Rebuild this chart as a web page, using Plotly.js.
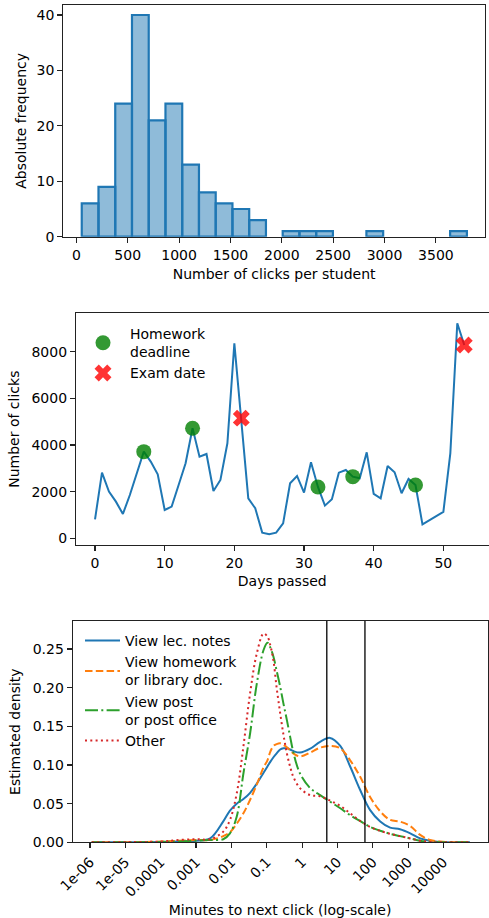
<!DOCTYPE html>
<html>
<head>
<meta charset="utf-8">
<script src="https://cdn.plot.ly/plotly-3.0.1.min.js"></script>
<style>html,body{margin:0;padding:0;background:#fff;}#chart{width:489px;height:918px;}</style>
</head>
<body>
<div id="chart"></div>
<script>
// ---------- Panel 1: histogram of clicks per student ----------
const histCounts = [6, 9, 24, 40, 21, 24, 13, 8, 6, 5, 3, 0, 1, 1, 1, 0, 0, 1, 0, 0, 0, 0, 1];
const histBinStart = 52.6;
const histBinWidth = 163;
const histTickVals = [0, 500, 1000, 1500, 2000, 2500, 3000, 3500];

// ---------- Panel 2: clicks per day ----------
const days = [0,1,2,3,4,5,6,7,8,9,10,11,12,13,14,15,16,17,18,19,20,21,22,23,24,25,26,
              27,28,29,30,31,32,33,34,35,36,37,38,39,40,41,42,43,44,45,46,47,48,49,50,51,52,53];
const clicks = [814, 2814, 2000, 1571, 1043, 1857, 2786, 3714, 3286, 2743, 1214, 1357, 2286, 3214,
                4714, 3500, 3614, 2029, 2500, 4071, 8357, 5150, 1714, 1286, 243, 171, 243, 643,
                2357, 2671, 1957, 3257, 2200, 1400, 1671, 2814, 2929, 2643, 2571, 3686, 1900, 1714,
                3100, 2829, 1929, 2543, 2286, 600, 786, 957, 1129, 3643, 9214, 8286];
const homeworkDays = [7, 14, 32, 37, 46];
const examDays = [21, 53];

// ---------- Panel 3: density of minutes to next click ----------
const logMinutes = [-5.95, -5, -4, -3.5, -3, -2.6, -2.23, -2.04, -1.85, -1.66, -1.47, -1.28, -1.09, -0.98,
                    -0.9, -0.81, -0.72, -0.62, -0.53, -0.43, -0.34, -0.25, -0.06, 0.23, 0.51, 0.79, 1.08,
                    1.36, 1.64, 1.92, 2.21, 2.49, 2.77, 3.06, 3.34, 3.62, 3.9, 4.3, 4.75];
const densLecNotes = [0, 0, 0.0005, 0.001, 0.002, 0.005, 0.027, 0.041, 0.05, 0.056, 0.064, 0.076, 0.09, 0.098,
                      0.104, 0.11, 0.115, 0.12, 0.1216, 0.1215, 0.12, 0.118, 0.116, 0.121, 0.13, 0.135, 0.1246,
                      0.098, 0.068, 0.042, 0.027, 0.019, 0.0168, 0.0116, 0.005, 0.002, 0.0005, 0, 0];
const densHomework = [0, 0, 0.001, 0.002, 0.003, 0.003, 0.008, 0.013, 0.024, 0.0375, 0.055, 0.075, 0.097, 0.106,
                      0.117, 0.1246, 0.127, 0.128, 0.126, 0.123, 0.119, 0.115, 0.111, 0.116, 0.1224, 0.1246, 0.1216,
                      0.106, 0.085, 0.059, 0.04, 0.029, 0.0267, 0.021, 0.0095, 0.003, 0.001, 0, 0];
const densPost = [0, 0, 0.0005, 0.001, 0.002, 0.003, 0.004, 0.0116, 0.033, 0.089, 0.141, 0.2056, 0.2487, 0.258,
                  0.252, 0.24, 0.222, 0.2013, 0.18, 0.158, 0.137, 0.117, 0.089, 0.07, 0.061, 0.0526, 0.044,
                  0.035, 0.0276, 0.02, 0.015, 0.011, 0.008, 0.005, 0.002, 0.0005, 0, 0, 0];
const densOther = [0, 0.0003, 0.001, 0.003, 0.004, 0.004, 0.0138, 0.029, 0.063, 0.124, 0.193, 0.2444, 0.27, 0.266,
                   0.255, 0.235, 0.2, 0.167, 0.14, 0.115, 0.098, 0.085, 0.07, 0.061, 0.0595, 0.054, 0.047,
                   0.0375, 0.0276, 0.02, 0.0147, 0.011, 0.008, 0.005, 0.002, 0.0005, 0, 0, 0];
const thresholdMinutes = [5, 60];
const logTickVals = [1e-6, 1e-5, 1e-4, 1e-3, 1e-2, 1e-1, 1, 10, 100, 1000, 10000];
const logTickText = ['1e-06', '1e-05', '0.0001', '0.001', '0.01', '0.1', '1', '10', '100', '1000', '10000'];

// ---------- build ----------
const W = 489, H = 918;
const px = v => v / W;
const py = v => 1 - v / H;
const FONT = 'DejaVu Sans';
const FS = 14;

const histBar = {
  type: 'bar', xaxis: 'x', yaxis: 'y',
  x: histCounts.map((c, i) => histBinStart + i * histBinWidth),
  y: histCounts.map(c => c === 0 ? null : c),
  width: histCounts.map(() => histBinWidth),
  offset: 0,
  marker: {color: 'rgba(31,119,180,0.5)', line: {color: '#1f77b4', width: 2.2}},
  showlegend: false, hoverinfo: 'skip'
};

const clickLine = {
  type: 'scatter', mode: 'lines', xaxis: 'x2', yaxis: 'y2',
  x: days, y: clicks, line: {color: '#1f77b4', width: 2},
  showlegend: false, hoverinfo: 'skip'
};
const hwMarkers = {
  type: 'scatter', mode: 'markers', xaxis: 'x2', yaxis: 'y2',
  x: homeworkDays, y: homeworkDays.map(d => clicks[days.indexOf(d)]),
  marker: {symbol: 'circle', size: 15, color: 'rgba(0,128,0,0.8)', line: {width: 0}},
  name: 'Homework<br>deadline', legend: 'legend'
};
const examMarkers = {
  type: 'scatter', mode: 'markers', xaxis: 'x2', yaxis: 'y2',
  x: examDays, y: examDays.map(d => clicks[days.indexOf(d)]),
  marker: {symbol: 'x', size: 15, color: 'rgba(255,0,0,0.8)', line: {width: 0}},
  name: 'Exam date', legend: 'legend'
};

const minutes = logMinutes.map(v => Math.pow(10, v));
function dens(y, name, color, dash) {
  return {
    type: 'scatter', mode: 'lines', xaxis: 'x3', yaxis: 'y3',
    x: minutes, y: y, name: name, legend: 'legend2',
    line: {color: color, width: 2, dash: dash, shape: 'spline', smoothing: 1},
    hoverinfo: 'skip'
  };
}
const densTraces = [
  dens(densLecNotes, 'View lec. notes', '#1f77b4', 'solid'),
  dens(densHomework, 'View homework<br>or library doc.', '#ff7f0e', '7.5px,3.3px'),
  dens(densPost, 'View post<br>or post office', '#2ca02c', '13px,3.3px,2px,3.3px'),
  dens(densOther, 'Other', '#d62728', '2px,3.3px')
];

const axBase = {
  showline: true, mirror: true, linecolor: '#222', linewidth: 1.1,
  ticks: 'outside', ticklen: 5, tickwidth: 1.1, tickcolor: '#222',
  showgrid: false, zeroline: false, automargin: false,
  tickfont: {family: FONT, size: FS, color: '#000'}
};
function ax(extra) { return Object.assign({}, axBase, extra); }

const layout = {
  width: W, height: H,
  margin: {l: 0, r: 0, t: 0, b: 0},
  paper_bgcolor: '#fff', plot_bgcolor: '#fff',
  font: {family: FONT, size: FS, color: '#000'},
  xaxis: ax({domain: [px(63.3), px(485)], anchor: 'y', range: [-127, 3978],
             tickvals: histTickVals, tickformat: 'd',
             title: {text: 'Number of clicks per student', font: {family: FONT, size: FS}, standoff: 7}}),
  yaxis: ax({domain: [py(236.7), py(5)], anchor: 'x', range: [0, 41.8], dtick: 10,
             title: {text: 'Absolute frequency', font: {family: FONT, size: FS}, standoff: 6}}),
  xaxis2: ax({domain: [px(76), px(488.5)], anchor: 'y2', range: [-2.73, 56.48], dtick: 10,
              title: {text: 'Days passed', font: {family: FONT, size: FS}, standoff: 6}}),
  yaxis2: ax({domain: [py(545), py(313.3)], anchor: 'x2', range: [-287, 9643], dtick: 2000, tickformat: 'd',
              title: {text: 'Number of clicks', font: {family: FONT, size: FS}, standoff: 8}}),
  xaxis3: ax({domain: [px(72.7), px(487.5)], anchor: 'y3', type: 'log', range: [-6.489, 5.245],
              tickvals: logTickVals, ticktext: logTickText, tickangle: -45,
              title: {text: 'Minutes to next click (log-scale)', font: {family: FONT, size: FS}, standoff: 6}}),
  yaxis3: ax({domain: [py(842.3), py(621)], anchor: 'x3', range: [0, 0.2862], dtick: 0.05, tickformat: '.2f',
              title: {text: 'Estimated density', font: {family: FONT, size: FS}, standoff: 8}}),
  legend: {x: px(76), y: py(318), xanchor: 'left', yanchor: 'top', bgcolor: 'rgba(0,0,0,0)',
           borderwidth: 0, itemwidth: 44, font: {family: FONT, size: FS}, tracegroupgap: 0},
  legend2: {x: px(80), y: py(625), xanchor: 'left', yanchor: 'top', bgcolor: 'rgba(0,0,0,0)',
            borderwidth: 0, itemwidth: 35, font: {family: FONT, size: FS}, tracegroupgap: 0},
  shapes: thresholdMinutes.map(m => ({
    type: 'line', xref: 'x3', yref: 'y3 domain', x0: m, x1: m, y0: 0, y1: 1,
    line: {color: '#000', width: 1.3}
  }))
};

Plotly.newPlot('chart', [histBar, clickLine, hwMarkers, examMarkers].concat(densTraces), layout,
               {staticPlot: true, displayModeBar: false});
</script>
</body>
</html>
